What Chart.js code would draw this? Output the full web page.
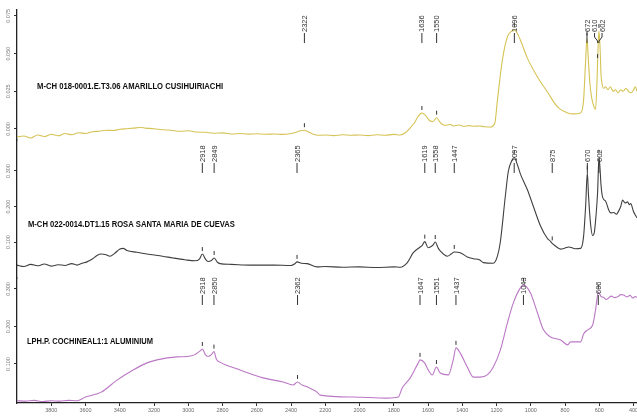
<!DOCTYPE html>
<html>
<head>
<meta charset="utf-8">
<script src="https://cdn.jsdelivr.net/npm/chart.js@4/dist/chart.umd.min.js"></script>
<style>
  html, body { margin: 0; padding: 0; background: #fff; overflow: hidden; }
  #wrap { width: 637px; height: 416px; position: relative; }
</style>
</head>
<body>
<div id="wrap"><canvas id="c"></canvas></div>
<script>
// ---- Wavenumber axis (cm-1) ----
const xTickValues = [3800, 3600, 3400, 3200, 3000, 2800, 2600, 2400, 2200, 2000, 1800, 1600, 1400, 1200, 1000, 800, 600, 400];

// ---- Absorbance tick values for each stacked panel ----
const amarilloTicks = [0, 0.025, 0.05, 0.075];
const rosaTicks = [0.1, 0.2, 0.3];
const cochinealTicks = [0.1, 0.2, 0.3];

// ---- Sample names ----
const amarilloName = 'M-CH 018-0001.E.T3.06 AMARILLO CUSIHUIRIACHI';
const rosaName = 'M-CH 022-0014.DT1.15 ROSA SANTA MARIA DE CUEVAS';
const cochinealName = 'LPH.P. COCHINEAL1:1 ALUMINIUM';

// ---- Spectrum 1: amarillo ----
const amarilloWavenumber = [4000, 3960, 3920, 3880, 3840, 3800, 3760, 3720, 3680, 3640, 3600, 3560, 3520, 3480, 3440, 3400, 3360, 3320, 3281, 3250, 3200, 3150, 3100, 3050, 3000, 2950, 2900, 2850, 2800, 2739, 2700, 2650, 2600, 2550, 2500, 2450, 2400, 2370, 2345, 2322, 2300, 2270, 2240, 2200, 2150, 2100, 2050, 2000, 1950, 1900, 1850, 1800, 1762, 1733, 1704, 1680, 1657, 1636, 1615, 1590, 1570, 1550, 1530, 1511, 1490, 1470, 1450, 1420, 1390, 1360, 1330, 1300, 1270, 1236, 1210, 1195, 1166, 1137, 1115, 1096, 1075, 1061, 1020, 961, 903, 844, 785, 750, 709, 692, 680, 672, 665, 655, 645, 632, 622, 614, 610, 606, 602, 595, 590, 584, 575, 563, 550, 535, 520, 505, 490, 475, 460, 445, 430, 415, 400, 390, 380];
const amarilloAbs = [-0.0053, -0.0046, -0.0060, -0.0040, -0.0050, -0.0035, -0.0045, -0.0030, -0.0038, -0.0025, -0.0030, -0.0018, -0.0015, -0.0008, -0.0010, -0.0002, 0.0002, 0.0006, 0.0010, 0.0006, 0.0002, -0.0005, -0.0008, -0.0015, -0.0012, -0.0020, -0.0022, -0.0028, -0.0026, -0.0033, -0.0030, -0.0034, -0.0032, -0.0035, -0.0033, -0.0036, -0.0030, -0.0022, -0.0012, -0.0008, -0.0018, -0.0035, -0.0042, -0.0040, -0.0044, -0.0038, -0.0042, -0.0040, -0.0044, -0.0038, -0.0042, -0.0036, -0.0040, -0.0025, 0.0008, 0.0040, 0.0085, 0.0106, 0.0090, 0.0055, 0.0050, 0.0075, 0.0045, 0.0027, 0.0025, 0.0030, 0.0020, 0.0026, 0.0018, 0.0022, 0.0018, 0.0020, 0.0015, 0.0013, 0.0040, 0.0190, 0.0458, 0.0610, 0.0645, 0.0657, 0.0625, 0.0590, 0.0470, 0.0345, 0.0245, 0.0146, 0.0106, 0.0100, 0.0106, 0.0190, 0.0450, 0.0600, 0.0480, 0.0300, 0.0210, 0.0150, 0.0130, 0.0300, 0.0450, 0.0580, 0.0650, 0.0520, 0.0360, 0.0300, 0.0270, 0.0280, 0.0260, 0.0280, 0.0250, 0.0260, 0.0240, 0.0260, 0.0250, 0.0270, 0.0250, 0.0240, 0.0260, 0.0280, 0.0250];
const amarilloPeaks = [2322, 1636, 1550, 1096, 672, 610, 602];

// ---- Spectrum 2: rosa ----
const rosaWavenumber = [4000, 3960, 3920, 3880, 3840, 3800, 3760, 3720, 3680, 3650, 3620, 3592, 3560, 3533, 3508, 3480, 3457, 3430, 3399, 3380, 3358, 3300, 3223, 3150, 3089, 3020, 2960, 2935, 2918, 2900, 2885, 2865, 2849, 2830, 2815, 2750, 2639, 2500, 2400, 2380, 2365, 2340, 2306, 2248, 2200, 2100, 2000, 1900, 1800, 1762, 1721, 1686, 1646, 1635, 1619, 1600, 1587, 1570, 1558, 1540, 1529, 1488, 1465, 1447, 1412, 1371, 1336, 1300, 1277, 1219, 1195, 1178, 1149, 1131, 1110, 1097, 1080, 1061, 1020, 985, 944, 903, 885, 875, 860, 826, 800, 779, 740, 709, 692, 680, 670, 663, 651, 639, 630, 620, 610, 602, 595, 590, 580, 563, 545, 534, 516, 500, 493, 475, 464, 450, 435, 425, 417, 400, 390, 380];
const rosaAbs = [0.035, 0.031, 0.037, 0.033, 0.038, 0.032, 0.036, 0.034, 0.039, 0.035, 0.040, 0.044, 0.052, 0.062, 0.066, 0.064, 0.060, 0.068, 0.080, 0.082, 0.076, 0.071, 0.065, 0.060, 0.055, 0.050, 0.047, 0.052, 0.066, 0.052, 0.045, 0.048, 0.055, 0.043, 0.039, 0.037, 0.035, 0.035, 0.034, 0.038, 0.044, 0.040, 0.039, 0.030, 0.031, 0.029, 0.030, 0.028, 0.030, 0.029, 0.042, 0.070, 0.086, 0.090, 0.101, 0.084, 0.086, 0.092, 0.100, 0.082, 0.075, 0.060, 0.066, 0.072, 0.070, 0.058, 0.053, 0.050, 0.042, 0.040, 0.060, 0.100, 0.228, 0.300, 0.330, 0.338, 0.320, 0.292, 0.247, 0.200, 0.146, 0.110, 0.102, 0.096, 0.090, 0.080, 0.083, 0.086, 0.081, 0.082, 0.115, 0.200, 0.295, 0.230, 0.150, 0.118, 0.125, 0.170, 0.240, 0.340, 0.300, 0.260, 0.225, 0.215, 0.190, 0.182, 0.183, 0.178, 0.182, 0.200, 0.218, 0.210, 0.213, 0.205, 0.208, 0.185, 0.176, 0.168];
const rosaPeaks = [2918, 2849, 2365, 1619, 1558, 1447, 1097, 875, 670, 602];

// ---- Spectrum 3: cochineal reference ----
const cochinealWavenumber = [4000, 3950, 3900, 3850, 3800, 3750, 3700, 3650, 3600, 3508, 3416, 3322, 3241, 3183, 3066, 3008, 2960, 2949, 2930, 2918, 2900, 2885, 2865, 2850, 2835, 2815, 2698, 2563, 2447, 2388, 2362, 2340, 2306, 2248, 2230, 2037, 1839, 1774, 1751, 1704, 1657, 1647, 1620, 1600, 1575, 1551, 1529, 1482, 1453, 1437, 1412, 1371, 1336, 1295, 1254, 1219, 1178, 1137, 1102, 1061, 1043, 1002, 961, 926, 885, 826, 785, 768, 709, 692, 668, 639, 622, 606, 590, 575, 560, 546, 530, 510, 493, 475, 458, 440, 420, 405, 390, 380];
const cochinealAbs = [0.002, 0.001, 0.003, 0.000, 0.002, 0.001, 0.003, 0.002, 0.012, 0.025, 0.057, 0.084, 0.103, 0.111, 0.119, 0.120, 0.125, 0.129, 0.135, 0.140, 0.125, 0.120, 0.125, 0.133, 0.112, 0.105, 0.084, 0.063, 0.052, 0.044, 0.052, 0.045, 0.039, 0.025, 0.017, 0.012, 0.009, 0.012, 0.036, 0.063, 0.103, 0.111, 0.103, 0.085, 0.071, 0.092, 0.076, 0.071, 0.111, 0.143, 0.129, 0.092, 0.065, 0.065, 0.071, 0.092, 0.137, 0.209, 0.263, 0.303, 0.311, 0.289, 0.236, 0.191, 0.172, 0.164, 0.151, 0.159, 0.159, 0.180, 0.191, 0.204, 0.244, 0.292, 0.280, 0.278, 0.272, 0.276, 0.281, 0.277, 0.279, 0.285, 0.284, 0.279, 0.283, 0.276, 0.280, 0.278];
const cochinealPeaks = [2918, 2850, 2362, 1647, 1551, 1437, 1043, 606];

// ---- Panel definitions (axis id, data, colours, annotation anchors) ----
const panels = [
  { axis: 'yTop', name: amarilloName, wn: amarilloWavenumber, abs: amarilloAbs, peaks: amarilloPeaks,
    color: '#d6c356', labelLineEnd: 0.057, title: { w: 3883, v: 0.0265, maxWidth: 186 } },
  { axis: 'yMid', name: rosaName, wn: rosaWavenumber, abs: rosaAbs, peaks: rosaPeaks,
    color: '#3f3f3f', labelLineEnd: 0.2944, title: { w: 3936, v: 0.142, maxWidth: 207 } },
  { axis: 'yBot', name: cochinealName, wn: cochinealWavenumber, abs: cochinealAbs, peaks: cochinealPeaks,
    color: '#bb78c5', labelLineEnd: 0.2573, title: { w: 3942, v: 0.153, maxWidth: 126 } }
];

// value of a spectrum at a given wavenumber (linear between samples)
function valueAt(wn, abs, w) {
  for (let i = 0; i < wn.length - 1; i++) {
    const a = wn[i], b = wn[i + 1];
    if ((w <= a && w >= b) || (w >= a && w <= b)) {
      const t = (w - a) / (b - a || 1);
      return abs[i] + t * (abs[i + 1] - abs[i]);
    }
  }
  return abs[abs.length - 1];
}

// push crowded labels apart, then recentre each crowded group
function spreadLabels(xs, gap) {
  const out = xs.slice();
  for (let i = 1; i < out.length; i++) {
    if (out[i] - out[i - 1] < gap) out[i] = out[i - 1] + gap;
  }
  let i = 0;
  while (i < out.length) {
    let j = i;
    while (j + 1 < out.length && out[j + 1] - out[j] <= gap + 0.01 && xs[j + 1] - xs[j] < gap) j++;
    if (j > i) {
      let s = 0;
      for (let k = i; k <= j; k++) s += out[k] - xs[k];
      const sh = s / (j - i + 1);
      for (let k = i; k <= j; k++) out[k] -= sh;
    }
    i = j + 1;
  }
  return out;
}

const annotationPlugin = {
  id: 'spectraAnnotations',
  afterDraw(chart) {
    const ctx = chart.ctx;
    const xs = chart.scales.x;

    // rotated absorbance tick labels
    ctx.save();
    ctx.fillStyle = '#7a7a7a';
    ctx.font = '5.5px "Liberation Sans", Arial, sans-serif';
    ctx.textAlign = 'center';
    ctx.textBaseline = 'middle';
    for (const id of ['yTop', 'yMid', 'yBot']) {
      const s = chart.scales[id];
      for (const t of s.ticks) {
        const py = s.getPixelForValue(t.value);
        ctx.save();
        ctx.translate(s.left + 8, py);
        ctx.rotate(-Math.PI / 2);
        ctx.fillText(t.value.toFixed(3), 0, 0);
        ctx.restore();
      }
    }
    ctx.restore();

    for (const p of panels) {
      const ys = chart.scales[p.axis];

      // sample name
      ctx.save();
      ctx.fillStyle = '#0e0e0e';
      ctx.font = 'bold 9px "Liberation Sans Narrow", "Arial Narrow", "Liberation Sans", Arial, sans-serif';
      ctx.textAlign = 'left';
      ctx.textBaseline = 'alphabetic';
      ctx.fillText(p.name, xs.getPixelForValue(p.title.w), ys.getPixelForValue(p.title.v), p.title.maxWidth);
      ctx.restore();

      // peak labels with leader lines and markers on the curve
      const sorted = p.peaks.slice().sort((a, b) => b - a);
      const px = sorted.map(w => xs.getPixelForValue(w));
      const lx = spreadLabels(px, 7.5);
      const lineEnd = ys.getPixelForValue(p.labelLineEnd);
      const lineTop = lineEnd - 10;

      ctx.save();
      ctx.strokeStyle = '#333';
      ctx.lineWidth = 1;
      ctx.fillStyle = '#333';
      ctx.font = '7.5px "Liberation Sans", Arial, sans-serif';
      ctx.textAlign = 'left';
      ctx.textBaseline = 'middle';
      sorted.forEach((w, i) => {
        const x0 = px[i], xl = lx[i];
        ctx.beginPath();
        if (Math.abs(xl - x0) > 0.5) {
          ctx.moveTo(xl, lineTop);
          ctx.lineTo(xl, lineTop + 4);
          ctx.lineTo(x0, lineTop + 8);
          ctx.lineTo(x0, lineEnd);
        } else {
          ctx.moveTo(x0, lineTop);
          ctx.lineTo(x0, lineEnd);
        }
        ctx.stroke();

        ctx.save();
        ctx.translate(xl, lineTop - 1);
        ctx.rotate(-Math.PI / 2);
        ctx.fillText(String(w), 0, 0.5);
        ctx.restore();

        const yc = ys.getPixelForValue(valueAt(p.wn, p.abs, w));
        ctx.beginPath();
        ctx.moveTo(x0, yc - 7);
        ctx.lineTo(x0, yc - 3);
        ctx.stroke();
      });
      ctx.restore();
    }
  }
};

function yAxis(min, max, ticks, stackWeight, weight) {
  return {
    type: 'linear',
    position: 'left',
    stack: 'spectra',
    stackWeight: stackWeight,
    weight: weight,
    min: min,
    max: max,
    afterBuildTicks: s => { s.ticks = ticks.map(v => ({ value: v })); },
    afterFit: s => { s.width = 17; s.paddingTop = 0; s.paddingBottom = 0; },
    ticks: { display: false },
    grid: { drawOnChartArea: false, drawTicks: true, tickLength: 3, color: '#333' },
    border: { display: true, color: '#222', width: 1.3 }
  };
}

new Chart(document.getElementById('c'), {
  type: 'line',
  data: {
    datasets: panels.map(p => ({
      label: p.name,
      data: p.wn.map((w, i) => ({ x: w, y: p.abs[i] })),
      yAxisID: p.axis,
      borderColor: p.color,
      borderWidth: 1.1,
      pointRadius: 0,
      cubicInterpolationMode: 'monotone',
      fill: false
    }))
  },
  options: {
    responsive: true,
    maintainAspectRatio: false,
    animation: false,
    devicePixelRatio: 1,
    layout: { padding: { top: 10, left: 0, right: 0, bottom: 0 } },
    plugins: { legend: { display: false }, tooltip: { enabled: false }, title: { display: false } },
    scales: {
      x: {
        type: 'linear',
        reverse: true,
        min: 380,
        max: 4000,
        afterBuildTicks: s => { s.ticks = xTickValues.map(v => ({ value: v })); },
        afterFit: s => { s.height = 13; s.paddingLeft = 0; s.paddingRight = 0; },
        ticks: {
          autoSkip: false, maxRotation: 0, minRotation: 0, padding: 1,
          color: '#6a6a6a',
          font: { size: 5.5, family: '"Liberation Sans", Arial, sans-serif' },
          callback: v => String(v)
        },
        grid: { drawOnChartArea: false, drawTicks: true, tickLength: 3, color: '#333' },
        border: { display: true, color: '#222', width: 1.3 }
      },
      yTop: yAxis(-0.0073, 0.0789, amarilloTicks, 130, 3),
      yMid: yAxis(-0.0014, 0.3873, rosaTicks, 138, 2),
      yBot: yAxis(-0.004, 0.3293, cochinealTicks, 125, 1)
    }
  },
  plugins: [annotationPlugin]
});
</script>
</body>
</html>
